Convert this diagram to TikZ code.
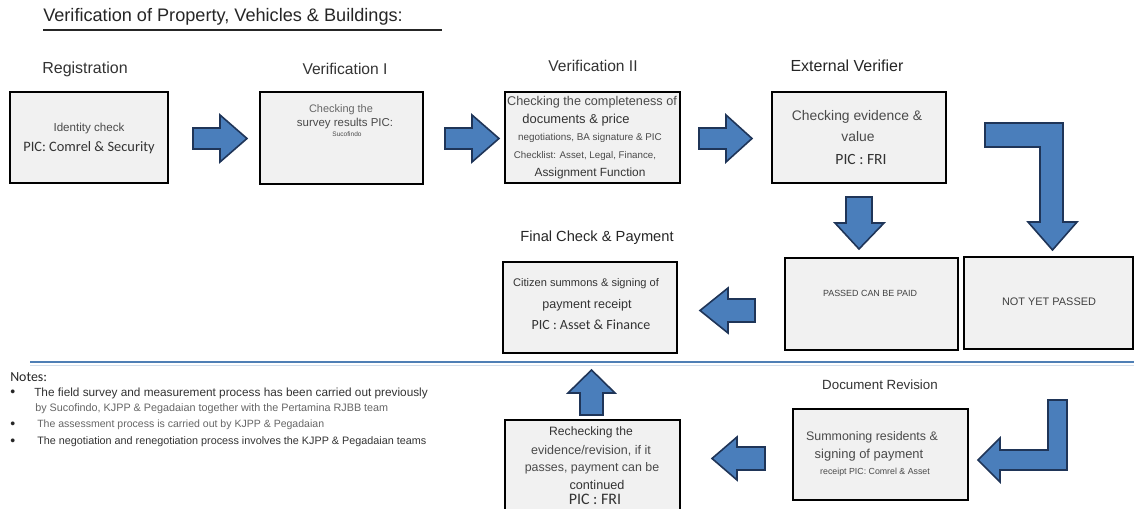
\documentclass[tikz,border=0pt]{standalone}
\usepackage{fontspec}
\setmainfont{Liberation Sans}
\newfontfamily\carl{Carlito}
\usetikzlibrary{fit}
\definecolor{boxgray}{HTML}{F1F1F1}
\definecolor{txt}{HTML}{4A4A4A}
\definecolor{ttl}{HTML}{333333}
\definecolor{ablue}{HTML}{4A7EBB}
\definecolor{aedge}{HTML}{1F3558}
\definecolor{sepblue}{HTML}{4F7FB5}
\newcommand\fsz[1]{\fontsize{#1}{#1}\selectfont}
\begin{document}
\begin{tikzpicture}[x=0.75pt,y=-0.75pt,
  box/.style={draw=black, line width=1.2pt, fill=boxgray, inner sep=0pt},
  blk/.style={fill=ablue, draw=aedge, line width=1.2pt, line join=miter},
  tx/.style={inner sep=0pt, text=txt},
  hd/.style={inner sep=0pt, text=ttl},
  bul/.style={inner sep=0pt, anchor=west, font=\fsz{10.5}, text=black!85}]
\useasboundingbox (0,0) rectangle (1134,509);
\clip (0,0) rectangle (1134,509);
\fill[white] (0,0) rectangle (1134,509);

% title
\node[hd, anchor=west, font=\fsz{13.6}, text=black!85] (title) at (43,17) {Verification of Property, Vehicles \& Buildings:};
\coordinate (ul1) at (43,30);
\coordinate (ul2) at (442,30);
\draw[line width=1.6pt, black!85] (ul1) -- (ul2);

% section headings
\node[hd, font=\fsz{12}] (hreg) at (85,69) {Registration};
\node[hd, font=\fsz{11.7}] (hv1) at (345,69) {Verification I};
\node[hd, font=\fsz{11.7}] (hv2) at (593,66) {Verification II};
\node[hd, font=\fsz{12}, text=black!85] (hext) at (847,66) {External Verifier};
\node[hd, font=\fsz{11}, text=black!85] (hfin) at (597,238) {Final Check \& Payment};
\node[hd, font=\fsz{10}] (hdoc) at (880,385) {Document Revision};

% boxes
\node[box, fit={(10,92) (168,183)}] (reg) {};
\node[box, fit={(260,92) (423,184)}] (v1) {};
\node[box, fit={(505,92) (680,183)}] (v2) {};
\node[box, fit={(772,92) (946,183)}] (ext) {};
\node[box, fit={(785,258) (958,350)}] (pass) {};
\node[box, fit={(964,257) (1133,349)}] (notp) {};
\node[box, fit={(503,262) (677,353)}] (fin) {};
\node[box, fit={(505,420) (680,520)}] (rech) {};
\node[box, fit={(793,409) (968,500)}] (summ) {};

% registration text
\node[tx, font=\fsz{8.7}] (r1) at (89,129) {Identity check};
\node[tx, font=\carl\fsz{10.8}, text=black!80] (r2) at (89,148) {PIC: Comrel \& Security};

% verification I text
\node[tx, font=\fsz{8.2}, text=black!60] (a1) at (341,110) {Checking the};
\node[tx, font=\fsz{8.6}] (a2) at (345,124) {survey results PIC:};
\node[tx, font=\fsz{4.9}] (a3) at (347,134) {Sucofindo};

% verification II text
\node[tx, font=\fsz{9.5}] (b1) at (592,102) {Checking the completeness of};
\node[tx, font=\fsz{9.7}, text=black!80] (b2) at (576,120) {documents \& price};
\node[tx, font=\fsz{7.4}] (b3) at (590,138) {negotiations, BA signature \& PIC};
\node[tx, font=\fsz{7.3}] (b4) at (585,156) {Checklist: Asset, Legal, Finance,};
\node[tx, font=\fsz{8.9}, text=black!80] (b5) at (590,173) {Assignment Function};

% external verifier text
\node[tx, font=\fsz{10.4}] (c1) at (857,117) {Checking evidence \&};
\node[tx, font=\fsz{10.4}] (c2) at (858,137) {value};
\node[tx, font=\carl\fsz{11.7}, text=black!80] (c3) at (861,160) {PIC : FRI};

% passed / not passed
\node[tx, font=\fsz{6.7}, text=black!75] (p1) at (870,293) {PASSED CAN BE PAID};
\node[tx, font=\fsz{8.2}, text=black!75] (n1) at (1049,302) {NOT YET PASSED};

% final check text
\node[tx, font=\fsz{8.3}, text=black!80] (f1) at (586,284) {Citizen summons \& signing of};
\node[tx, font=\fsz{9.4}, text=black!80] (f2) at (587,305) {payment receipt};
\node[tx, font=\carl\fsz{10.5}, text=black!80] (f3) at (591,325) {PIC : Asset \& Finance};

% rechecking text
\node[tx, font=\fsz{9.1}, text=black!80] (e1) at (591,432) {Rechecking the};
\node[tx, font=\fsz{9.4}] (e2) at (591,451) {evidence/revision, if it};
\node[tx, font=\fsz{9.3}] (e3) at (592,468) {passes, payment can be};
\node[tx, font=\fsz{9.5}, text=black!80] (e4) at (597,485) {continued};
\node[tx, font=\carl\fsz{12}, text=black!80] (e5) at (595,499) {PIC : FRI};

% summoning text
\node[tx, font=\fsz{9.3}] (s1) at (872,437) {Summoning residents \&};
\node[tx, font=\fsz{9.7}] (s2) at (869,455) {signing of payment};
\node[tx, font=\fsz{6.6}] (s3) at (875,472) {receipt PIC: Comrel \& Asset};

% separator line
\coordinate (sl1) at (30,362);
\coordinate (sl2) at (1134,362);
\draw[line width=2.2pt, sepblue] (sl1) -- (sl2);
\draw[line width=1pt, sepblue!25] ([yshift=-2.5pt]sl1) -- ([yshift=-2.5pt]sl2);

% notes
\node[tx, anchor=west, font=\carl\fsz{10.4}, text=black!85] (notes) at (10,377) {Notes:};
\node[bul] (d1) at (10,393) {•};
\node[tx, anchor=west, font=\fsz{8.85}, text=black!80] (nb1) at (34,393) {The field survey and measurement process has been carried out previously};
\node[tx, anchor=west, font=\fsz{8.1}, text=black!60] (nb1b) at (35,409) {by Sucofindo, KJPP \& Pegadaian together with the Pertamina RJBB team};
\node[bul] (d2) at (10,425) {•};
\node[tx, anchor=west, font=\fsz{7.9}, text=black!60] (nb2) at (37,425) {The assessment process is carried out by KJPP \& Pegadaian};
\node[bul] (d3) at (10,442) {•};
\node[tx, anchor=west, font=\fsz{8.1}, text=black!80] (nb3) at (37,442) {The negotiation and renegotiation process involves the KJPP \& Pegadaian teams};

% block arrows
\filldraw[blk] (193,128) -- (220,128) -- (220,115) -- (247,138.5) -- (220,162) -- (220,149) -- (193,149) -- cycle;
\filldraw[blk] (445,128) -- (472,128) -- (472,115) -- (499,138.5) -- (472,162) -- (472,149) -- (445,149) -- cycle;
\filldraw[blk] (699,128) -- (726,128) -- (726,115) -- (752,138.5) -- (726,162) -- (726,149) -- (699,149) -- cycle;
\filldraw[blk] (846,197) -- (872,197) -- (872,223) -- (884,223) -- (859,249) -- (835,223) -- (846,223) -- cycle;
\filldraw[blk] (985,123) -- (1063,123) -- (1063,222) -- (1077,222) -- (1052.5,250) -- (1028,222) -- (1040,222) -- (1040,147) -- (985,147) -- cycle;
\filldraw[blk] (755,299) -- (728,299) -- (728,288) -- (700,310.5) -- (728,333) -- (728,322) -- (755,322) -- cycle;
\filldraw[blk] (580,415) -- (580,393) -- (568,393) -- (591.5,370) -- (615,393) -- (603,393) -- (603,415) -- cycle;
\filldraw[blk] (765,447) -- (737,447) -- (737,437) -- (712,458.5) -- (737,480) -- (737,470) -- (765,470) -- cycle;
\filldraw[blk] (1048,400) -- (1067,400) -- (1067,470) -- (1000,470) -- (1000,482) -- (978,460) -- (1000,438) -- (1000,450) -- (1048,450) -- cycle;
\end{tikzpicture}
\end{document}
